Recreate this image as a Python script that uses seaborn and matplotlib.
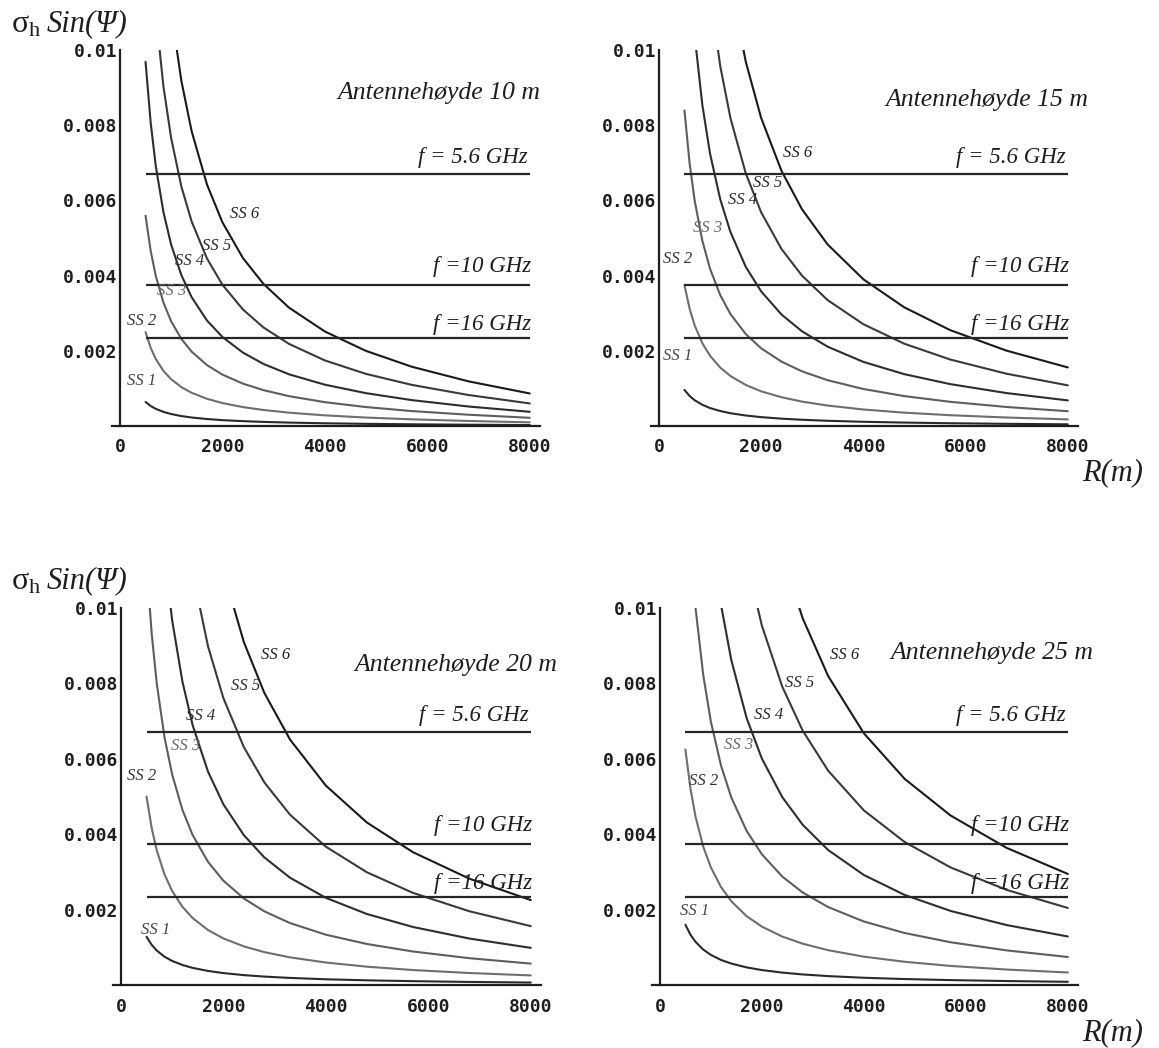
import matplotlib
matplotlib.use("Agg")
import matplotlib.pyplot as plt
import seaborn as sns
import numpy as np
import pandas as pd

# ---------------- data ----------------
R_m = [500, 600, 700, 850, 1000, 1200, 1400, 1700, 2000, 2400, 2800, 3300, 4000, 4800, 5700, 6800, 8000]

sea_states = ["SS 1", "SS 2", "SS 3", "SS 4", "SS 5", "SS 6"]
antenna_heights = [10, 15, 20, 25]

# sigma_h * sin(psi) curves, antenna height 10 m
h10_ss1 = [0.000639, 0.000532, 0.000456, 0.000375, 0.000318, 0.000264, 0.000226, 0.000185, 0.000156, 0.000129, 0.000109, 0.0000908, 0.0000725, 0.0000576, 0.0000454, 0.0000343, 0.0000249]
h10_ss2 = [0.002496, 0.002079, 0.001781, 0.001464, 0.001243, 0.001033, 0.000883, 0.000723, 0.000610, 0.000503, 0.000426, 0.000355, 0.000283, 0.000225, 0.000177, 0.000134, 0.0000974]
h10_ss3 = [0.005592, 0.004657, 0.003989, 0.003280, 0.002783, 0.002314, 0.001977, 0.001619, 0.001367, 0.001127, 0.000954, 0.000794, 0.000634, 0.000504, 0.000397, 0.000300, 0.000218]
h10_ss4 = [0.009686, 0.008066, 0.006909, 0.005682, 0.004821, 0.004008, 0.003425, 0.002804, 0.002368, 0.001953, 0.001652, 0.001375, 0.001099, 0.000874, 0.000688, 0.000519, 0.000378]
h10_ss5 = [0.015378, 0.012806, 0.010969, 0.009021, 0.007655, 0.006363, 0.005437, 0.004452, 0.003759, 0.003100, 0.002623, 0.002184, 0.001744, 0.001387, 0.001093, 0.000825, 0.000600]
h10_ss6 = [0.022168, 0.018460, 0.015812, 0.013004, 0.011035, 0.009172, 0.007838, 0.006418, 0.005419, 0.004469, 0.003782, 0.003148, 0.002514, 0.001999, 0.001575, 0.001189, 0.000865]

# antenna height 15 m
h15_ss1 = [0.000959, 0.000799, 0.000684, 0.000563, 0.000478, 0.000398, 0.000340, 0.000279, 0.000236, 0.000195, 0.000166, 0.000139, 0.000112, 0.0000910, 0.0000735, 0.0000578, 0.0000449]
h15_ss2 = [0.003746, 0.003121, 0.002674, 0.002200, 0.001868, 0.001554, 0.001329, 0.001091, 0.000923, 0.000764, 0.000649, 0.000544, 0.000439, 0.000355, 0.000287, 0.000226, 0.000176]
h15_ss3 = [0.008392, 0.006990, 0.005989, 0.004927, 0.004183, 0.003480, 0.002977, 0.002443, 0.002067, 0.001711, 0.001454, 0.001218, 0.000984, 0.000796, 0.000643, 0.000506, 0.000393]
h15_ss4 = [0.014536, 0.012108, 0.010373, 0.008535, 0.007246, 0.006028, 0.005157, 0.004231, 0.003580, 0.002963, 0.002518, 0.002110, 0.001705, 0.001379, 0.001114, 0.000876, 0.000681]
h15_ss5 = [0.023078, 0.019223, 0.016469, 0.013550, 0.011505, 0.009570, 0.008187, 0.006717, 0.005684, 0.004704, 0.003998, 0.003350, 0.002707, 0.002189, 0.001768, 0.001391, 0.001081]
h15_ss6 = [0.033268, 0.027711, 0.023741, 0.019533, 0.016585, 0.013796, 0.011802, 0.009684, 0.008194, 0.006781, 0.005763, 0.004830, 0.003902, 0.003156, 0.002549, 0.002005, 0.001558]

# antenna height 20 m
h20_ss1 = [0.001279, 0.001066, 0.000913, 0.000751, 0.000638, 0.000531, 0.000454, 0.000373, 0.000316, 0.000262, 0.000223, 0.000188, 0.000152, 0.000124, 0.000102, 0.0000813, 0.0000649]
h20_ss2 = [0.004996, 0.004162, 0.003566, 0.002935, 0.002493, 0.002075, 0.001775, 0.001458, 0.001235, 0.001024, 0.000872, 0.000733, 0.000596, 0.000486, 0.000397, 0.000318, 0.000254]
h20_ss3 = [0.011192, 0.009323, 0.007988, 0.006574, 0.005583, 0.004647, 0.003977, 0.003266, 0.002767, 0.002294, 0.001954, 0.001643, 0.001334, 0.001088, 0.000889, 0.000711, 0.000568]
h20_ss4 = [0.019386, 0.016150, 0.013837, 0.011388, 0.009672, 0.008049, 0.006889, 0.005658, 0.004793, 0.003973, 0.003384, 0.002846, 0.002312, 0.001884, 0.001539, 0.001233, 0.000985]
h20_ss5 = [0.030778, 0.025639, 0.021968, 0.018079, 0.015355, 0.012779, 0.010936, 0.008982, 0.007609, 0.006308, 0.005373, 0.004518, 0.003669, 0.002991, 0.002444, 0.001957, 0.001562]
h20_ss6 = [0.044368, 0.036961, 0.031668, 0.026062, 0.022135, 0.018422, 0.015765, 0.012948, 0.010969, 0.009093, 0.007746, 0.006512, 0.005289, 0.004311, 0.003523, 0.002821, 0.002252]

# antenna height 25 m
h25_ss1 = [0.001599, 0.001332, 0.001142, 0.000940, 0.000798, 0.000664, 0.000569, 0.000467, 0.000396, 0.000329, 0.000280, 0.000236, 0.000192, 0.000158, 0.000130, 0.000105, 0.0000849]
h25_ss2 = [0.006246, 0.005204, 0.004459, 0.003670, 0.003118, 0.002595, 0.002222, 0.001826, 0.001548, 0.001285, 0.001096, 0.000923, 0.000752, 0.000616, 0.000506, 0.000410, 0.000332]
h25_ss3 = [0.013992, 0.011657, 0.009988, 0.008221, 0.006983, 0.005814, 0.004977, 0.004090, 0.003467, 0.002877, 0.002454, 0.002067, 0.001684, 0.001379, 0.001134, 0.000918, 0.000743]
h25_ss4 = [0.024236, 0.020192, 0.017302, 0.014241, 0.012097, 0.010071, 0.008621, 0.007084, 0.006005, 0.004984, 0.004251, 0.003580, 0.002918, 0.002389, 0.001965, 0.001590, 0.001287]
h25_ss5 = [0.038478, 0.032056, 0.027468, 0.022609, 0.019205, 0.015988, 0.013687, 0.011247, 0.009534, 0.007913, 0.006748, 0.005684, 0.004632, 0.003793, 0.003119, 0.002523, 0.002044]
h25_ss6 = [0.055468, 0.046210, 0.039597, 0.032592, 0.027685, 0.023047, 0.019730, 0.016213, 0.013744, 0.011406, 0.009728, 0.008194, 0.006677, 0.005468, 0.004497, 0.003637, 0.002946]

# frequency limits (horizontal lines) and their labels
freq_labels = ["f = 5.6 GHz", "f =10 GHz", "f =16 GHz"]
freq_limits = [0.0067, 0.00375, 0.00234]
freq_R_start = 500
freq_R_end = 8000

x_ticks = [0, 2000, 4000, 6000, 8000]
y_ticks = [0.002, 0.004, 0.006, 0.008, 0.01]
y_tick_labels = ["0.002", "0.004", "0.006", "0.008", "0.01"]

# annotation anchor positions (R, value) for the SS labels in each panel
ss_label_pos = {
    10: [(424, 0.00120), (424, 0.00280), (1010, 0.00360), (1367, 0.00440), (1889, 0.00480), (2441, 0.00565)],
    15: [(372, 0.00186), (372, 0.00443), (959, 0.00527), (1644, 0.00602), (2133, 0.00646), (2720, 0.00726)],
    20: [(670, 0.00147), (410, 0.00554), (1256, 0.00634), (1549, 0.00713), (2428, 0.00792), (3014, 0.00876)],
    25: [(686, 0.00195), (850, 0.00540), (1536, 0.00637), (2124, 0.00717), (2745, 0.00801), (3627, 0.00876)],
}
title_pos = {10: (6230, 0.00885), 15: (6420, 0.00868), 20: (6530, 0.00848), 25: (6510, 0.00880)}

curves = {
    10: [h10_ss1, h10_ss2, h10_ss3, h10_ss4, h10_ss5, h10_ss6],
    15: [h15_ss1, h15_ss2, h15_ss3, h15_ss4, h15_ss5, h15_ss6],
    20: [h20_ss1, h20_ss2, h20_ss3, h20_ss4, h20_ss5, h20_ss6],
    25: [h25_ss1, h25_ss2, h25_ss3, h25_ss4, h25_ss5, h25_ss6],
}

# ---------------- styling ----------------
sns.set_theme(style="white")
plt.rcParams["font.family"] = ["DejaVu Sans"]
plt.rcParams["mathtext.fontset"] = "custom"
plt.rcParams["mathtext.rm"] = "Liberation Serif"
plt.rcParams["mathtext.it"] = "Liberation Serif:italic"

SERIF = ["Liberation Serif", "DejaVu Serif"]
MONO = ["DejaVu Sans Mono"]
curve_colors = ["#2a2a2a", "#6e6e6e", "#5e5e5e", "#2e2e2e", "#3a3a3a", "#1a1a1a"]
label_colors = ["#444444", "#333333", "#6a6a6a", "#2a2a2a", "#2a2a2a", "#222222"]
line_color = "#262626"

W, H = 1159, 1048
fig = plt.figure(figsize=(W / 100, H / 100), dpi=100)
fig.patch.set_facecolor("white")

# axes rectangles in pixels: left, right, top, bottom
rects = {
    10: (112, 540, 50, 426),
    15: (651, 1078, 50, 426),
    20: (113, 541, 608, 985),
    25: (652, 1078, 608, 985),
}

for h in antenna_heights:
    l, r, t, b = rects[h]
    ax = fig.add_axes([l / W, 1 - b / H, (r - l) / W, (b - t) / H])
    ax.set_facecolor("white")

    rows = []
    for name, vals in zip(sea_states, curves[h]):
        for R, v in zip(R_m, vals):
            rows.append({"R": R, "value": v, "state": name})
    df = pd.DataFrame(rows)
    sns.lineplot(data=df, x="R", y="value", hue="state", hue_order=sea_states,
                 palette=curve_colors, estimator=None, sort=False, legend=False,
                 linewidth=1.5, ax=ax)

    ax.hlines(freq_limits, freq_R_start, freq_R_end, colors=line_color, linewidth=1.6)

    ax.set_xlim(-155, 8200)
    ax.set_ylim(0, 0.01)
    ax.set_xlabel("")
    ax.set_ylabel("")

    for s in ["top", "right"]:
        ax.spines[s].set_visible(False)
    ax.spines["left"].set_position(("data", 0))
    for s in ["left", "bottom"]:
        ax.spines[s].set_color("#1e1e1e")
        ax.spines[s].set_linewidth(1.6)

    ax.set_xticks(x_ticks)
    ax.set_xticklabels([str(x) for x in x_ticks])
    ax.set_yticks(y_ticks)
    ax.set_yticklabels(y_tick_labels)
    ax.set_xticks(np.arange(0, 8001, 400), minor=True)
    ax.set_yticks(np.arange(0, 0.01001, 0.0004), minor=True)
    ax.tick_params(which="both", direction="in", color="#1e1e1e", width=1.1)
    ax.tick_params(which="major", length=6)
    ax.tick_params(which="minor", length=3.5)
    ax.tick_params(axis="x", which="major", pad=9)
    ax.tick_params(axis="y", which="major", pad=2)
    for lab in ax.get_xticklabels() + ax.get_yticklabels():
        lab.set_fontfamily(MONO)
        lab.set_fontweight("bold")
        lab.set_fontsize(13)
        lab.set_color("#1e1e1e")

    # texts
    tx, ty = title_pos[h]
    ax.text(tx, ty, f"Antennehøyde {h} m", family=SERIF, style="italic",
            fontsize=18.5, ha="center", va="center", color="#1e1e1e", clip_on=False)
    f_x = [7950, 8030, 8030]
    f_off = [0.00045, 0.00048, 0.00035]
    for lab, val, fx, off in zip(freq_labels, freq_limits, f_x, f_off):
        ax.text(fx, val + off, lab, family=SERIF, style="italic", fontsize=16.5,
                ha="right", va="center", color="#1e1e1e", clip_on=False)
    for (sx, sy), name, col in zip(ss_label_pos[h], sea_states, label_colors):
        ax.text(sx, sy, name, family=SERIF, style="italic", fontsize=12,
                ha="center", va="center", color=col, clip_on=False)

# y-axis quantity labels and range labels
for ypix in (25, 582):
    fig.text(11 / W, 1 - ypix / H, "σ$_\\mathregular{h}$", family=SERIF, fontsize=23,
             ha="left", va="center", color="#1e1e1e")
    fig.text(47 / W, 1 - (ypix - 1) / H, "Sin(Ψ)", family=SERIF, style="italic", fontsize=22,
             ha="left", va="center", color="#1e1e1e")
for ypix in (473, 1033):
    fig.text(1113 / W, 1 - ypix / H, "R(m)", family=SERIF, style="italic", fontsize=22,
             ha="center", va="center", color="#1e1e1e")

fig.savefig("out.png", dpi=100, facecolor="white")
